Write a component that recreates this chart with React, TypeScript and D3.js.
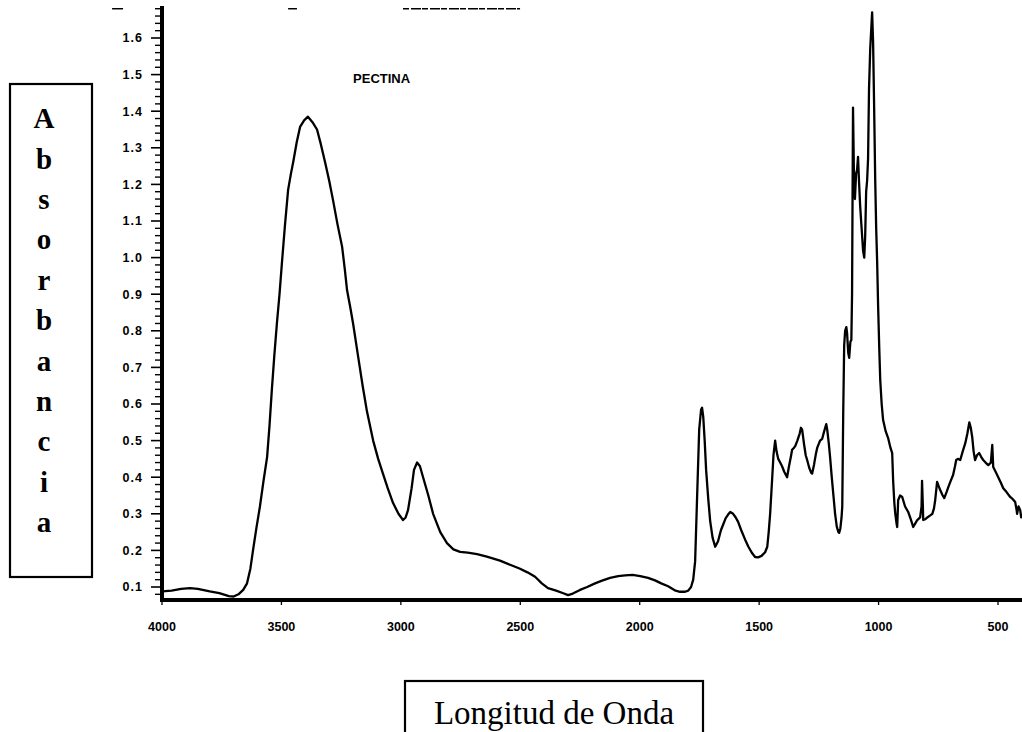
import React from 'react';
import * as d3 from 'd3';

// ---- data ----
const wavenumber = [
  4000, 3960, 3920, 3883, 3850, 3800, 3760, 3720, 3700, 3680, 3660, 3644, 3630, 3619, 3605, 3590, 3575, 3560, 3550, 3540,
  3530, 3519, 3508, 3498, 3485, 3472, 3460, 3451, 3436, 3422, 3405, 3389, 3370, 3351, 3335, 3317, 3300, 3284, 3265, 3246,
  3235, 3225, 3212, 3200, 3179, 3160, 3142, 3116, 3095, 3075, 3055, 3033, 3010, 2991, 2980, 2970, 2955, 2945, 2932, 2920,
  2907, 2885, 2865, 2835, 2807, 2780, 2752, 2720, 2681, 2640, 2585, 2540, 2501, 2470, 2438, 2410, 2384, 2350, 2320, 2300,
  2280, 2250, 2220, 2187, 2155, 2124, 2090, 2061, 2030, 1998, 1965, 1936, 1910, 1881, 1850, 1831, 1810, 1797, 1785, 1776,
  1768, 1760, 1751, 1743, 1739, 1734, 1728, 1722, 1713, 1705, 1695, 1684, 1672, 1660, 1651, 1640, 1630, 1621, 1609, 1598,
  1588, 1575, 1559, 1545, 1529, 1517, 1504, 1490, 1475, 1466, 1460, 1454, 1446, 1440, 1433, 1427, 1420, 1412, 1404, 1395,
  1387, 1383, 1375, 1366, 1362, 1355, 1349, 1340, 1330, 1325, 1320, 1312, 1305, 1299, 1290, 1282, 1278, 1270, 1262, 1257,
  1245, 1236, 1228, 1219, 1215, 1208, 1203, 1196, 1190, 1182, 1175, 1168, 1165, 1160, 1155, 1152, 1148, 1144, 1140, 1135,
  1132, 1127, 1123, 1118, 1114, 1111, 1107, 1103, 1099, 1094, 1090, 1086, 1082, 1077, 1073, 1068, 1065, 1060, 1056, 1052,
  1048, 1044, 1040, 1035, 1027, 1023, 1019, 1014, 1010, 1006, 1002, 997, 993, 987, 981, 970, 960, 950, 943, 939,
  934, 930, 925, 922, 918, 910, 901, 889, 876, 865, 855, 845, 838, 826, 820, 818, 815, 813, 805, 796,
  785, 775, 768, 763, 755, 748, 742, 733, 725, 715, 708, 698, 688, 680, 675, 668, 658, 648, 637, 628,
  620, 614, 608, 602, 596, 588, 579, 570, 562, 552, 541, 530, 524, 520, 510, 499, 488, 478, 465, 449,
  438, 428, 422, 420, 414, 407, 403, 399,
];
const absorbance = [
  0.088, 0.090, 0.095, 0.097, 0.095, 0.088, 0.083, 0.075, 0.074, 0.080, 0.092, 0.110, 0.150, 0.200, 0.260, 0.320, 0.390, 0.455, 0.540, 0.640,
  0.730, 0.820, 0.900, 0.985, 1.090, 1.185, 1.230, 1.260, 1.315, 1.357, 1.375, 1.385, 1.370, 1.350, 1.310, 1.260, 1.210, 1.157, 1.090, 1.030,
  0.970, 0.910, 0.865, 0.820, 0.730, 0.650, 0.580, 0.500, 0.450, 0.410, 0.370, 0.330, 0.300, 0.283, 0.290, 0.310, 0.370, 0.420, 0.440, 0.430,
  0.400, 0.350, 0.300, 0.250, 0.220, 0.203, 0.196, 0.194, 0.190, 0.183, 0.172, 0.160, 0.150, 0.140, 0.128, 0.110, 0.097, 0.090, 0.083, 0.078,
  0.082, 0.092, 0.100, 0.110, 0.118, 0.125, 0.130, 0.132, 0.133, 0.130, 0.125, 0.118, 0.110, 0.102, 0.090, 0.087, 0.087, 0.090, 0.100, 0.120,
  0.170, 0.340, 0.530, 0.585, 0.590, 0.565, 0.500, 0.420, 0.340, 0.280, 0.235, 0.210, 0.225, 0.255, 0.270, 0.288, 0.298, 0.305, 0.300, 0.290,
  0.278, 0.255, 0.230, 0.210, 0.192, 0.182, 0.181, 0.185, 0.195, 0.210, 0.250, 0.300, 0.390, 0.460, 0.500, 0.470, 0.450, 0.440, 0.430, 0.415,
  0.405, 0.400, 0.430, 0.460, 0.475, 0.480, 0.485, 0.500, 0.520, 0.535, 0.530, 0.490, 0.460, 0.447, 0.425, 0.412, 0.410, 0.435, 0.465, 0.480,
  0.500, 0.505, 0.525, 0.545, 0.530, 0.490, 0.455, 0.400, 0.357, 0.300, 0.265, 0.250, 0.248, 0.260, 0.290, 0.320, 0.575, 0.760, 0.800, 0.810,
  0.795, 0.740, 0.726, 0.770, 0.775, 0.900, 1.410, 1.220, 1.160, 1.230, 1.240, 1.275, 1.210, 1.140, 1.100, 1.050, 1.020, 1.000, 1.060, 1.180,
  1.210, 1.270, 1.460, 1.570, 1.670, 1.590, 1.430, 1.210, 1.080, 0.990, 0.870, 0.750, 0.665, 0.600, 0.556, 0.525, 0.507, 0.480, 0.466, 0.390,
  0.330, 0.300, 0.275, 0.264, 0.337, 0.350, 0.346, 0.320, 0.305, 0.285, 0.264, 0.275, 0.283, 0.290, 0.320, 0.390, 0.330, 0.283, 0.285, 0.290,
  0.295, 0.300, 0.315, 0.337, 0.387, 0.375, 0.365, 0.352, 0.343, 0.360, 0.373, 0.390, 0.406, 0.430, 0.447, 0.450, 0.447, 0.470, 0.493, 0.520,
  0.550, 0.535, 0.510, 0.470, 0.447, 0.460, 0.466, 0.455, 0.447, 0.440, 0.433, 0.440, 0.488, 0.428, 0.415, 0.400, 0.385, 0.370, 0.360, 0.346,
  0.340, 0.332, 0.310, 0.300, 0.320, 0.310, 0.290, 0.300,
];

const yTickValues = [0.1, 0.2, 0.3, 0.4, 0.5, 0.6, 0.7, 0.8, 0.9, 1.0, 1.1, 1.2, 1.3, 1.4, 1.5, 1.6];
const yTickLabels = ['0.1', '0.2', '0.3', '0.4', '0.5', '0.6', '0.7', '0.8', '0.9', '1.0', '1.1', '1.2', '1.3', '1.4', '1.5', '1.6'];
const xTickValues = [4000, 3500, 3000, 2500, 2000, 1500, 1000, 500];
const xTickLabels = ['4000', '3500', '3000', '2500', '2000', '1500', '1000', '500'];
const seriesLabel = 'PECTINA';
const yTitle = 'Absorbancia';
const xTitle = 'Longitud de Onda';
// faint remains of the scanned top frame, in data units [wavenumber from, wavenumber to]
const topFrameBits = [[4209, 4163], [3472, 3435], [2991, 2501]];

export default function App() {
  const W = 1022;
  const H = 732;
  const x = d3.scaleLinear().domain([4000, 500]).range([162, 998]);
  const y = d3.scaleLinear().domain([0.1, 1.6]).range([587, 38]);
  const xMin = 399;
  const yBottom = 600;
  const yTop = 6;
  const axisX = x(4000);

  const pts: [number, number][] = wavenumber.map((w, i) => [w, absorbance[i]]);
  const line = d3
    .line<[number, number]>()
    .x((d) => x(d[0]))
    .y((d) => y(d[1]))
    .curve(d3.curveLinear);

  const minor = d3.range(0.08, 1.681, 0.02).filter((v) => Math.abs(Math.round(v * 10) - v * 10) > 0.05);

  const letters = yTitle.split('');
  const boxTop = 84;
  const boxBottom = 577;
  const letterStep = (522 - 118) / (letters.length - 1);

  return (
    <svg
      width={W}
      height={H}
      viewBox={`0 0 ${W} ${H}`}
      style={{ position: 'absolute', left: 0, top: 0, background: '#fff' }}
    >
      <rect x={0} y={0} width={W} height={H} fill="#fff" />

      {/* top frame remnants */}
      {topFrameBits.map((b, i) => (
        <line
          key={i}
          x1={x(b[0])}
          x2={x(b[1])}
          y1={y(1.68)}
          y2={y(1.68)}
          stroke="#000"
          strokeWidth={1.5}
          strokeDasharray={i === 2 ? '6 2 10 1' : undefined}
        />
      ))}

      {/* y axis */}
      <line x1={axisX} x2={axisX} y1={yTop} y2={yBottom + 2} stroke="#000" strokeWidth={4} />
      {minor.map((v, i) => (
        <line key={'m' + i} x1={axisX - 7} x2={axisX} y1={y(v)} y2={y(v)} stroke="#000" strokeWidth={1.4} />
      ))}
      {yTickValues.map((v, i) => (
        <g key={'yt' + i}>
          <line x1={axisX - 11} x2={axisX} y1={y(v)} y2={y(v)} stroke="#000" strokeWidth={1.6} />
          <text
            x={axisX - 19}
            y={y(v)}
            dy="0.35em"
            textAnchor="end"
            fontFamily="'Liberation Sans', Arial, sans-serif"
            fontWeight="bold"
            fontSize={12.5}
            letterSpacing={1}
            fill="#000"
          >
            {yTickLabels[i]}
          </text>
        </g>
      ))}

      {/* x axis */}
      <line x1={axisX - 2} x2={x(xMin)} y1={yBottom} y2={yBottom} stroke="#000" strokeWidth={4} />
      {xTickValues.map((v, i) => (
        <g key={'xt' + i}>
          <line x1={x(v)} x2={x(v)} y1={yBottom} y2={yBottom + 5} stroke="#000" strokeWidth={1.3} />
          <text
            x={x(v)}
            y={yBottom + 31}
            textAnchor="middle"
            fontFamily="'Liberation Sans', Arial, sans-serif"
            fontWeight="bold"
            fontSize={12.5}
            fill="#000"
          >
            {xTickLabels[i]}
          </text>
        </g>
      ))}

      {/* spectrum */}
      <path d={line(pts) || ''} fill="none" stroke="#000" strokeWidth={2.3} strokeLinejoin="round" />

      {/* series label */}
      <text
        x={x(3200)}
        y={y(1.49)}
        dy="0.35em"
        textAnchor="start"
        fontFamily="'Liberation Sans', Arial, sans-serif"
        fontWeight="bold"
        fontSize={13}
        fill="#000"
      >
        {seriesLabel}
      </text>

      {/* y title box */}
      <rect x={10} y={boxTop} width={82} height={boxBottom - boxTop} fill="none" stroke="#000" strokeWidth={2.2} />
      {letters.map((c, i) => (
        <text
          key={'l' + i}
          x={44}
          y={118 + i * letterStep}
          dy="0.35em"
          textAnchor="middle"
          fontFamily="'Liberation Serif', 'Times New Roman', serif"
          fontWeight="bold"
          fontSize={29}
          fill="#000"
        >
          {c}
        </text>
      ))}

      {/* x title box */}
      <rect x={405} y={681} width={298} height={80} fill="none" stroke="#000" strokeWidth={2.2} />
      <text
        x={554}
        y={724}
        textAnchor="middle"
        fontFamily="'Liberation Serif', 'Times New Roman', serif"
        fontSize={33}
        fill="#000"
      >
        {xTitle}
      </text>
    </svg>
  );
}
